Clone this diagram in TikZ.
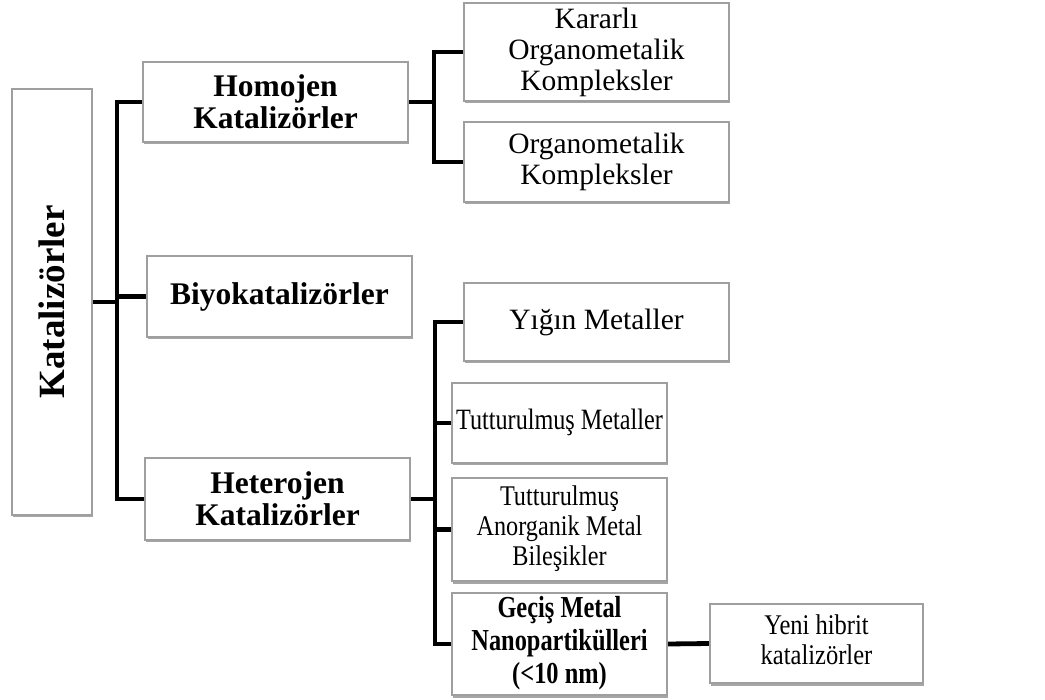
\documentclass[tikz,border=0pt]{standalone}
\usepackage{fontspec}
\setmainfont{Liberation Serif}
\usepackage{graphicx}
\usetikzlibrary{shadows,backgrounds}
\newcommand{\sqz}[2]{\scalebox{#1}[1]{\begin{tabular}{@{}c@{}}#2\end{tabular}}}
\tikzset{
  box/.style={draw=gray!75, line width=1.4pt, fill=white, rectangle, inner sep=0pt, align=center,
    drop shadow={shadow xshift=1.2pt, shadow yshift=-2.5pt, fill=black, opacity=0.35}},
  reg/.style={font=\fontsize{29.5}{31}\selectfont},
  bld/.style={font=\fontsize{31.5}{32}\selectfont\bfseries},
  conn/.style={line width=4.8pt, line join=miter, line cap=rect}
}
\begin{document}
\begin{tikzpicture}[x=1pt,y=-1pt]
\useasboundingbox (0,0) rectangle (1045,700);
% nodes
\node[box, minimum width=80pt, minimum height=426pt] (root) at (52,302)
  {\rotatebox{90}{\fontsize{37}{40}\selectfont\bfseries Katalizörler}};
\node[box, bld, minimum width=265pt, minimum height=80pt] (hom) at (275.5,102) {Homojen\\Katalizörler};
\node[box, bld, minimum width=265pt, minimum height=81pt] (bio) at (279.5,296.5) {Biyokatalizörler};
\node[box, bld, minimum width=265pt, minimum height=82pt] (het) at (277.5,499) {Heterojen\\Katalizörler};
\node[box, reg, minimum width=265pt, minimum height=98pt] (kar) at (596.5,52) {Kararlı\\Organometalik\\Kompleksler};
\node[box, reg, minimum width=265pt, minimum height=80pt] (org) at (596.5,162) {Organometalik\\Kompleksler};
\node[box, reg, minimum width=265pt, minimum height=78pt] (yig) at (596.5,322) {Yığın Metaller};
\node[box, minimum width=215pt, minimum height=80pt] (tm) at (559.5,423)
  {\fontsize{29.5}{31}\selectfont\sqz{0.82}{Tutturulmuş Metaller}};
\node[box, minimum width=215pt, minimum height=103pt] (tam) at (559.5,529.5)
  {\fontsize{28.5}{30}\selectfont\sqz{0.85}{Tutturulmuş\\Anorganik Metal\\Bileşikler}};
\node[box, minimum width=215pt, minimum height=102pt] (gec) at (559.5,644)
  {\fontsize{30.5}{33}\selectfont\bfseries\sqz{0.8}{Geçiş Metal\\Nanopartikülleri\\(<10 nm)}};
\node[box, minimum width=213pt, minimum height=79pt] (yeni) at (816.5,643.5)
  {\fontsize{28.5}{30}\selectfont\sqz{0.86}{Yeni hibrit\\katalizörler}};
% junction coordinates
\coordinate (t1) at (117,302);
\coordinate (t2) at (434,102);
\coordinate (t3) at (435,499);
\begin{scope}[on background layer]
\fill[white] (0,0) rectangle (1045,700);
\draw[conn] (root.east) -- (t1);
\draw[conn] (hom.west) -| (t1) |- (het.west);
\draw[conn] (bio.west) -- (bio.west -| t1);
\draw[conn] (hom.east) -- (t2);
\draw[conn] (kar.west) -| (t2);
\draw[conn] (org.west) -| (t2);
\draw[conn] (het.east) -- (t3);
\draw[conn] (yig.west) -| (t3);
\draw[conn] (gec.west) -| (t3);
\draw[conn] (tm.west) -- (tm.west -| t3);
\draw[conn] (tam.west) -- (tam.west -| t3);
\draw[conn] (gec.east) -- (yeni.west);
\end{scope}
\end{tikzpicture}
\end{document}
